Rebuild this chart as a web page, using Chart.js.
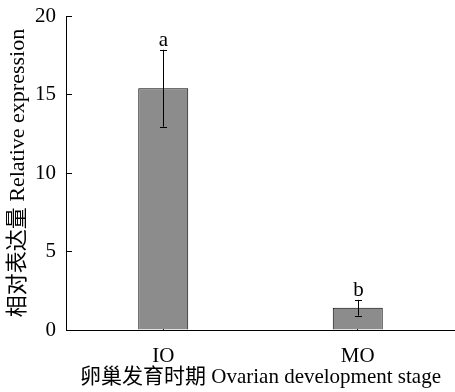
<!DOCTYPE html>
<html>
<head>
<meta charset="utf-8">
<script src="https://cdn.jsdelivr.net/npm/chart.js@4/dist/chart.umd.min.js"></script>
<style>
  html, body { margin: 0; padding: 0; background: #fff; }
  #wrap { width: 455px; height: 392px; }
</style>
</head>
<body>
<div id="wrap"><canvas id="c" width="455" height="392"></canvas></div>
<script>
// Relative expression by ovarian development stage
const stages = ['IO', 'MO'];
const expression = [15.4, 1.42];
const errors = [2.45, 0.5];
const letters = ['a', 'b'];
const yTicks = [0, 5, 10, 15, 20];

const FONT = '"Liberation Serif", "Noto Sans CJK SC", serif';
const SIZE = 21;

// error bars with significance letters above each bar
const errorBars = {
  id: 'errorBars',
  afterDatasetsDraw(chart) {
    const ctx = chart.ctx;
    const meta = chart.getDatasetMeta(0);
    const y = chart.scales.y;
    ctx.save();
    ctx.strokeStyle = '#000';
    ctx.lineWidth = 1;
    meta.data.forEach((bar, i) => {
      const x = Math.round(bar.x) + 0.5;
      const top = y.getPixelForValue(expression[i] + errors[i]);
      const bot = y.getPixelForValue(expression[i] - errors[i]);
      ctx.beginPath();
      ctx.moveTo(x, top); ctx.lineTo(x, bot);
      ctx.moveTo(x - 3.5, Math.round(top) + 0.5); ctx.lineTo(x + 3.5, Math.round(top) + 0.5);
      ctx.moveTo(x - 3.5, Math.round(bot) + 0.5); ctx.lineTo(x + 3.5, Math.round(bot) + 0.5);
      ctx.stroke();
      ctx.fillStyle = '#000';
      ctx.font = SIZE + 'px ' + FONT;
      ctx.textAlign = 'center';
      ctx.textBaseline = 'alphabetic';
      ctx.fillText(letters[i], x, top - 4);
    });
    ctx.restore();
  }
};

new Chart(document.getElementById('c'), {
  type: 'bar',
  data: {
    labels: stages,
    datasets: [{
      data: expression,
      backgroundColor: '#8c8c8c',
      borderColor: '#000',
      borderWidth: 1,
      borderSkipped: 'start',
      categoryPercentage: 1,
      barPercentage: 0.257
    }]
  },
  options: {
    responsive: false,
    animation: false,
    layout: { padding: { top: 16, right: 0, left: 0, bottom: 0 } },
    plugins: { legend: { display: false }, tooltip: { enabled: false } },
    scales: {
      x: {
        z: 1,
        offset: true,
        grid: { offset: false, drawOnChartArea: false, drawTicks: true, tickLength: -6, color: '#000' },
        border: { color: '#000', width: 1 },
        ticks: { color: '#000', font: { family: FONT, size: SIZE }, padding: 20 },
        title: {
          display: true,
          text: '卵巢发育时期 Ovarian development stage',
          color: '#000',
          font: { family: FONT, size: SIZE },
          padding: { top: 0, bottom: 2 }
        },
        afterFit(s) { s.height = 62; s.paddingLeft = 0; s.paddingRight = 0; }
      },
      y: {
        min: 0, max: 20,
        afterBuildTicks(s) { s.ticks = yTicks.map(v => ({ value: v })); },
        grid: { drawOnChartArea: false, drawTicks: true, tickLength: -6, color: '#000' },
        border: { color: '#000', width: 1 },
        ticks: { color: '#000', font: { family: FONT, size: SIZE }, padding: 16 },
        title: {
          display: true,
          text: '相对表达量 Relative expression',
          color: '#000',
          font: { family: FONT, size: 22 },
          padding: { top: 5, bottom: 0 }
        },
        afterFit(s) { s.width = 66; s.paddingTop = 0; s.paddingBottom = 0; }
      }
    }
  },
  plugins: [errorBars]
});
</script>
</body>
</html>
